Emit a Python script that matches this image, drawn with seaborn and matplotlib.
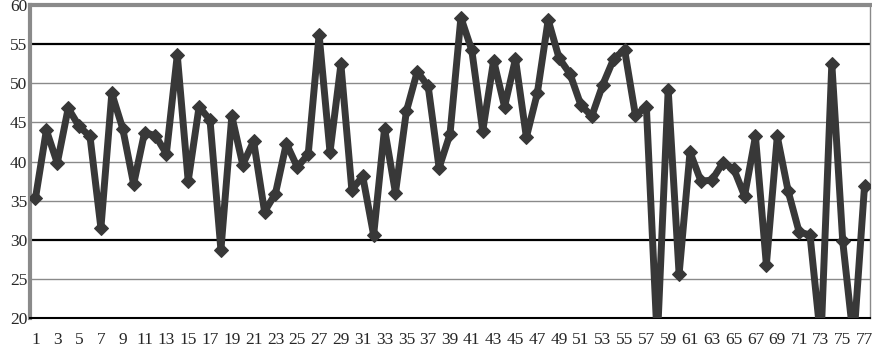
import numpy as np
import pandas as pd
import matplotlib
matplotlib.use("Agg")
import matplotlib.pyplot as plt
import seaborn as sns

# values (points below 20 are clipped by the axis)
idx = list(range(1, 78))
values = [
    35.3, 44.0, 39.8, 46.8, 44.5, 43.2, 31.5, 48.7, 44.2, 37.1,
    43.7, 43.3, 41.0, 53.6, 37.5, 47.0, 45.3, 28.7, 45.8, 39.6,
    42.6, 33.6, 35.9, 42.3, 39.3, 40.9, 56.2, 41.2, 52.4, 36.4,
    38.1, 30.6, 44.2, 36.0, 46.4, 51.5, 49.6, 39.2, 43.5, 58.4,
    54.2, 43.9, 52.9, 47.0, 53.1, 43.1, 48.7, 58.1, 53.2, 51.2,
    47.2, 45.8, 49.8, 53.1, 54.3, 45.9, 47.0, 17.0, 49.2, 25.6,
    41.2, 37.5, 37.6, 39.8, 39.1, 35.6, 43.2, 26.8, 43.2, 36.2,
    31.0, 30.6, 17.0, 52.5, 29.8, 17.0, 36.9,
]
y_ticks = [20, 25, 30, 35, 40, 45, 50, 55, 60]
bold_lines = [30, 55]

df = pd.DataFrame({"point": idx, "value": values})

sns.set_style("white")
plt.rcParams["font.family"] = ["Liberation Serif", "DejaVu Serif"]

fig = plt.figure(figsize=(8.72, 3.47), dpi=100)
ax = fig.add_axes([30 / 872, 29 / 347, 840 / 872, 313 / 347])

# gridlines
for v in y_ticks[1:-1]:
    if v in bold_lines:
        ax.axhline(v, color="black", lw=1.6, zorder=1)
    else:
        ax.axhline(v, color="#8a8a8a", lw=1.0, zorder=1)

sns.lineplot(data=df, x="point", y="value", ax=ax, color="#383838",
             lw=5, marker="D", markersize=7.5, markeredgecolor="#383838",
             zorder=3)

ax.set_xlim(0.5, 77.5)
ax.set_ylim(20, 60)
ax.set_yticks(y_ticks)
ax.set_xticks(idx[::2])
ax.set_xticks(np.arange(0.5, 78, 1), minor=True)
ax.tick_params(axis="x", which="major", length=0, labelsize=12.5, pad=10)
ax.tick_params(axis="x", which="minor", length=4, width=1, color="black",
               direction="out")
ax.tick_params(axis="y", length=0, labelsize=12.5, pad=2)
ax.set_xlabel("")
ax.set_ylabel("")

for side in ["top", "left"]:
    ax.spines[side].set_color("#8a8a8a")
    ax.spines[side].set_linewidth(3)
ax.spines["right"].set_color("#8a8a8a")
ax.spines["right"].set_linewidth(1)
ax.spines["bottom"].set_color("black")
ax.spines["bottom"].set_linewidth(1.5)

fig.savefig("out.png", dpi=100)
